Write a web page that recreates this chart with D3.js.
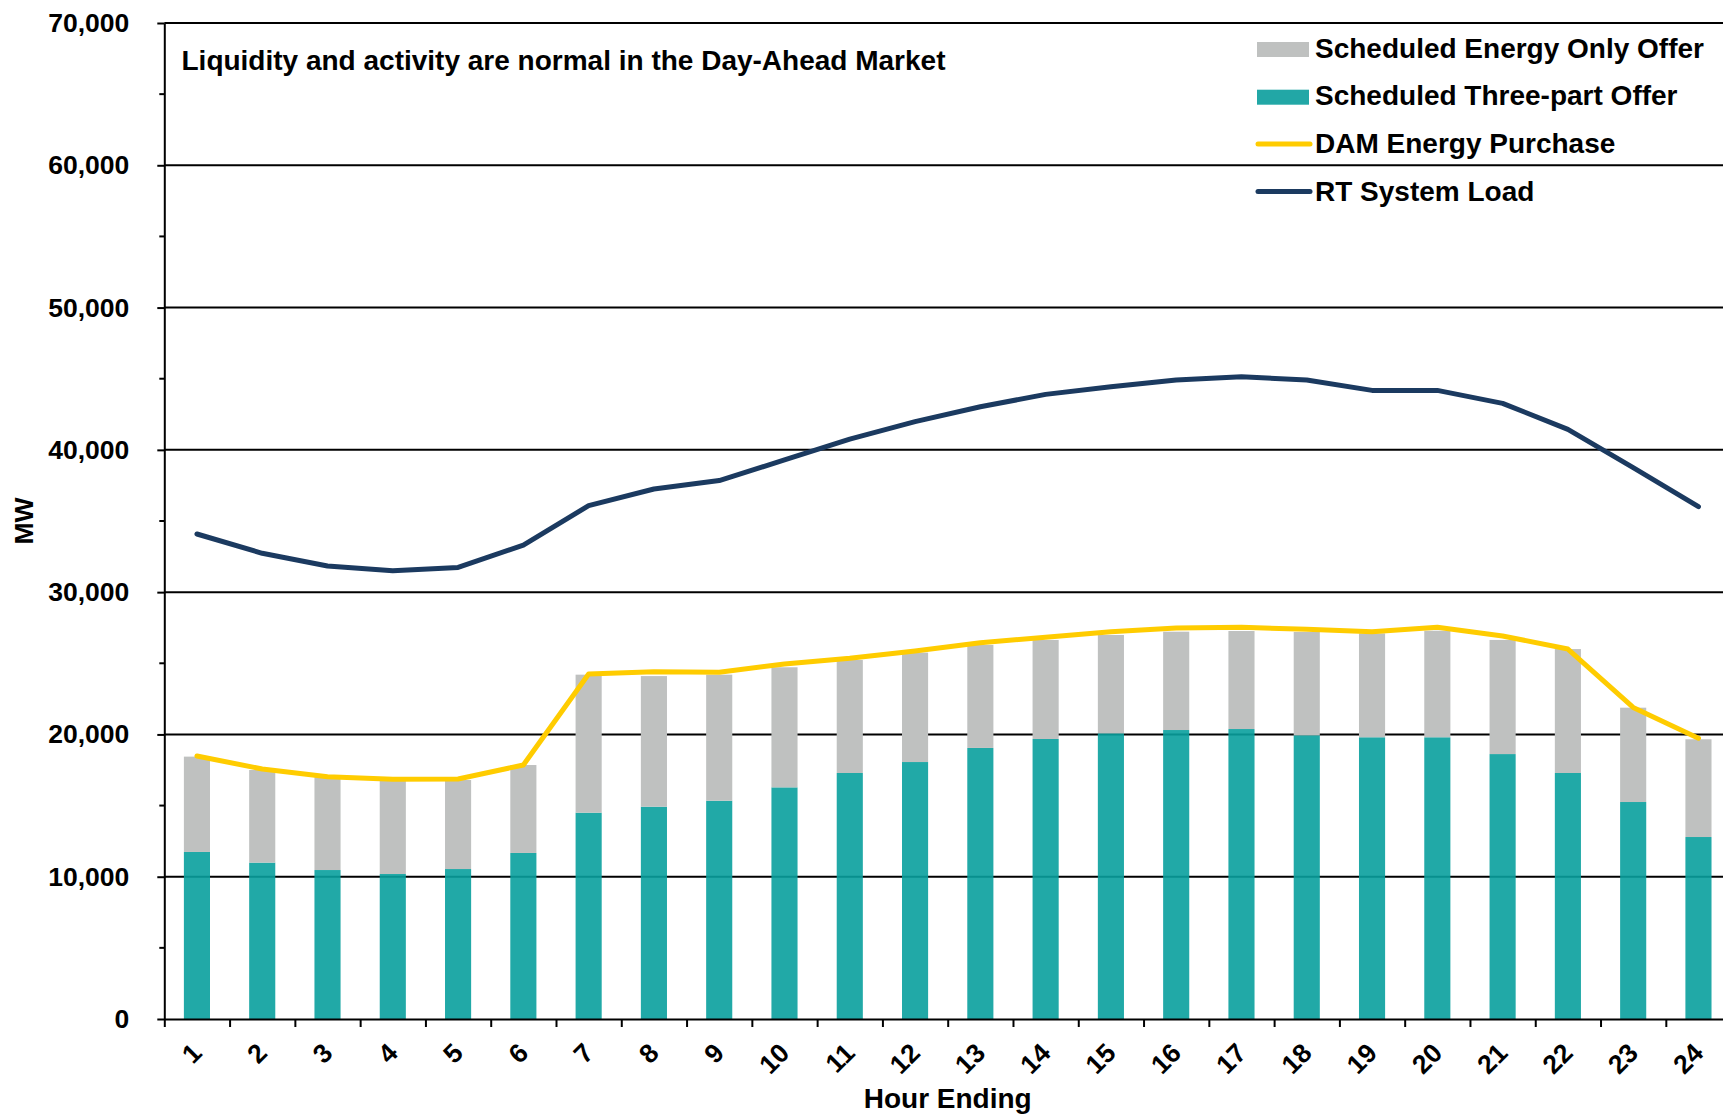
<!DOCTYPE html>
<html>
<head>
<meta charset="utf-8">
<script src="https://cdn.jsdelivr.net/npm/d3@7"></script>
<style>
  body { margin: 0; background: #fff; }
  svg { display: block; font-family: "Liberation Sans", Arial, sans-serif; font-weight: bold; }
</style>
</head>
<body>
<div id="chart"></div>
<script>
const hours = ['1','2','3','4','5','6','7','8','9','10','11','12','13','14','15','16','17','18','19','20','21','22','23','24'];
const threePart = [11740, 10990, 10470, 10190, 10540, 11670, 14500, 14920, 15340, 16280, 17290, 18060, 19050, 19680, 20080, 20310, 20380, 19940, 19800, 19800, 18620, 17290, 15250, 12790];
const energyOnly = [6700, 6510, 6530, 6560, 6260, 6180, 9700, 9180, 8860, 8440, 7940, 7690, 7240, 6960, 6910, 6910, 6890, 7260, 7300, 7490, 8020, 8710, 6630, 6870];
const damPurchase = [18480, 17570, 17030, 16850, 16870, 17850, 24250, 24410, 24370, 24950, 25350, 25860, 26450, 26830, 27220, 27480, 27530, 27390, 27220, 27530, 26920, 26000, 21900, 19730];
const rtLoad = [34085, 32730, 31840, 31510, 31740, 33310, 36080, 37250, 37840, 39290, 40760, 41980, 43030, 43900, 44440, 44910, 45140, 44910, 44180, 44180, 43270, 41440, 38750, 36010];
const yTicks = [0, 10000, 20000, 30000, 40000, 50000, 60000, 70000];
const yMinor = [5000, 15000, 25000, 35000, 45000, 55000, 65000];

const width = 1723;
const height = 1114;
const margin = { top: 23, left: 164.3, bottom: 95 };
const plotRight = 1731.1; // chart runs slightly past the image edge
const plotBottom = height - margin.bottom;

const colors = {
  energy: '#bfc1c0',
  three: '#09a09d',
  dam: '#ffcc00',
  rt: '#1b3a60'
};

const svg = d3.select('#chart').append('svg')
  .attr('width', width)
  .attr('height', height);

const xScale = d3.scaleBand().domain(hours).range([margin.left, plotRight]).padding(0);
const xEdge = d3.scaleLinear().domain([0, hours.length]).range([margin.left, plotRight]);
const yScale = d3.scaleLinear().domain([0, 70000]).range([plotBottom, margin.top]);

// gridlines
svg.append('g')
  .selectAll('line')
  .data(yTicks.filter(d => d > 0))
  .join('line')
  .attr('x1', margin.left).attr('x2', plotRight)
  .attr('y1', d => yScale(d)).attr('y2', d => yScale(d))
  .attr('stroke', '#000').attr('stroke-width', 2);

// bars
const barW = xScale.bandwidth() * 0.4;
const rows = hours.map((h, i) => ({ h, three: threePart[i], energy: energyOnly[i] }));
const stack = d3.stack().keys(['three', 'energy'])(rows);
const barColor = { three: colors.three, energy: colors.energy };
svg.append('g')
  .selectAll('g')
  .data(stack)
  .join('g')
  .attr('fill', d => barColor[d.key])
  .attr('fill-opacity', d => d.key === 'three' ? 0.9 : 1)
  .selectAll('rect')
  .data(d => d)
  .join('rect')
  .attr('x', d => xScale(d.data.h) + (xScale.bandwidth() - barW) / 2)
  .attr('width', barW)
  .attr('y', d => yScale(d[1]))
  .attr('height', d => yScale(d[0]) - yScale(d[1]));

// lines
const line = d3.line()
  .x((d, i) => xScale(hours[i]) + xScale.bandwidth() / 2)
  .y(d => yScale(d));
svg.append('path')
  .attr('d', line(damPurchase))
  .attr('fill', 'none').attr('stroke', colors.dam)
  .attr('stroke-width', 5).attr('stroke-linejoin', 'round').attr('stroke-linecap', 'round');
svg.append('path')
  .attr('d', line(rtLoad))
  .attr('fill', 'none').attr('stroke', colors.rt)
  .attr('stroke-width', 5).attr('stroke-linejoin', 'round').attr('stroke-linecap', 'round');

// y axis
const yAxisG = svg.append('g')
  .attr('transform', `translate(${margin.left},0)`)
  .call(d3.axisLeft(yScale).tickValues(yTicks).tickSizeInner(7).tickSizeOuter(0)
    .tickPadding(28).tickFormat(d3.format(',')));
yAxisG.append('g')
  .selectAll('line')
  .data(yMinor)
  .join('line')
  .attr('x1', -5).attr('x2', 0)
  .attr('y1', d => yScale(d)).attr('y2', d => yScale(d))
  .attr('stroke', '#000').attr('stroke-width', 2);
yAxisG.selectAll('line, path').attr('stroke', '#000').attr('stroke-width', 2);
yAxisG.selectAll('text')
  .attr('font-size', 26.5).attr('font-family', '"Liberation Sans", Arial, sans-serif')
  .attr('font-weight', 'bold').attr('fill', '#000');

// x axis: ticks at band edges, labels at band centres
const xTickG = svg.append('g')
  .attr('transform', `translate(0,${plotBottom})`)
  .call(d3.axisBottom(xEdge).tickValues(d3.range(hours.length + 1)).tickFormat('')
    .tickSizeInner(8).tickSizeOuter(0));
xTickG.selectAll('line, path').attr('stroke', '#000').attr('stroke-width', 2);

const xLabelG = svg.append('g')
  .attr('transform', `translate(0,${plotBottom})`)
  .call(d3.axisBottom(xScale).tickSize(0));
xLabelG.select('.domain').remove();
xLabelG.selectAll('text')
  .attr('font-size', 26.5).attr('font-family', '"Liberation Sans", Arial, sans-serif')
  .attr('font-weight', 'bold').attr('fill', '#000')
  .attr('text-anchor', 'end')
  .attr('x', 0).attr('y', 29).attr('dy', '0.35em')
  .attr('transform', 'rotate(-45, 0, 29)');

// axis titles
svg.append('text')
  .attr('x', (margin.left + plotRight) / 2).attr('y', 1108)
  .attr('text-anchor', 'middle').attr('font-size', 28)
  .text('Hour Ending');
svg.append('text')
  .attr('transform', `translate(33,${(margin.top + plotBottom) / 2}) rotate(-90)`)
  .attr('text-anchor', 'middle').attr('font-size', 26.5)
  .text('MW');

// annotation
svg.append('text')
  .attr('x', 181.5).attr('y', 70)
  .attr('font-size', 28)
  .text('Liquidity and activity are normal in the Day-Ahead Market');

// legend
const legendItems = [
  { name: 'Scheduled Energy Only Offer', color: colors.energy, type: 'rect' },
  { name: 'Scheduled Three-part Offer', color: '#22a7a6', type: 'rect' },
  { name: 'DAM Energy Purchase', color: colors.dam, type: 'line' },
  { name: 'RT System Load', color: colors.rt, type: 'line' }
];
const legend = svg.append('g').attr('transform', 'translate(1257,57.5)');
legendItems.forEach((s, i) => {
  const row = legend.append('g').attr('transform', `translate(0,${i * 47.7})`);
  if (s.type === 'rect') {
    row.append('rect').attr('x', 0).attr('y', -15.5).attr('width', 52).attr('height', 15).attr('fill', s.color);
  } else {
    row.append('line').attr('x1', 1).attr('x2', 53).attr('y1', -9).attr('y2', -9)
      .attr('stroke', s.color).attr('stroke-width', 5).attr('stroke-linecap', 'round');
  }
  row.append('text').attr('x', 58).attr('y', 0).attr('font-size', 28).text(s.name);
});
</script>
</body>
</html>
